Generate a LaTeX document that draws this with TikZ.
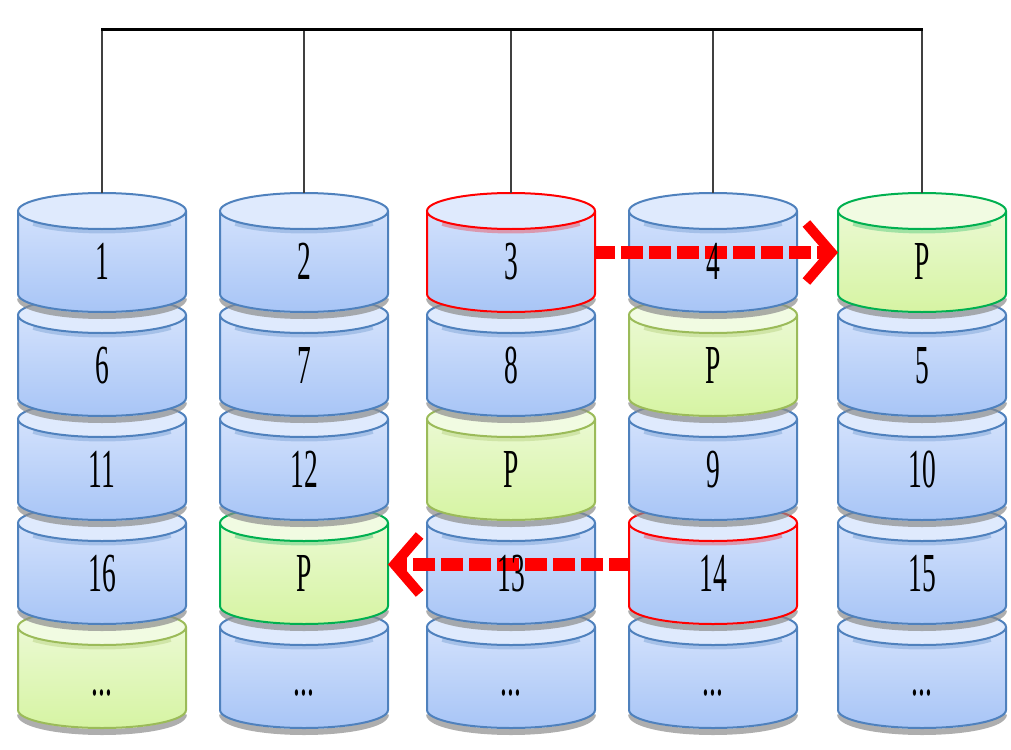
\documentclass[tikz,border=0pt]{standalone}
\usepackage{fontspec}
\setmainfont{Liberation Serif}
\usetikzlibrary{arrows.meta}

% colour sets: b = plain disk, r = source disk, g = parity disk, s = target parity disk
\definecolor{b-top}{HTML}{DAE6FD}
\definecolor{b-bot}{HTML}{A8C5F6}
\definecolor{b-cap}{HTML}{DFEAFD}
\definecolor{b-edge}{HTML}{4F81BD}
\colorlet{r-top}{b-top}
\colorlet{r-bot}{b-bot}
\colorlet{r-cap}{b-cap}
\definecolor{r-edge}{HTML}{FF0000}
\definecolor{g-top}{HTML}{EEFADA}
\definecolor{g-bot}{HTML}{D6F4A3}
\definecolor{g-cap}{HTML}{F1FBE2}
\definecolor{g-edge}{HTML}{9BBB59}
\colorlet{s-top}{g-top}
\colorlet{s-bot}{g-bot}
\colorlet{s-cap}{g-cap}
\definecolor{s-edge}{HTML}{00B050}
\definecolor{movered}{HTML}{FF0000}

\newcommand\moreblocks{...}

\tikzset{
  diskbox/.style={minimum width=168pt, minimum height=119pt, inner sep=0pt, outer sep=0pt, draw=none},
  lbl/.style={font=\fontsize{55}{55}\selectfont, xscale=0.5, anchor=base, inner sep=0pt},
  busline/.style={line width=3pt, black},
  drop/.style={line width=1.6pt, black!75},
  move/.style={movered, line width=13pt, dash pattern=on 22pt off 6pt, dash phase=2pt,
    -{Straight Barb[length=25pt, width=58pt, line width=10pt]}},
  shade/.style={line width=6pt, black!45, opacity=.7},
}

% \disk{name}{centre x}{cap centre y}{colour set}
\newcommand\disk[4]{%
  \pgfmathsetmacro\cbot{#3+83}%
  \draw[shade] (#2-82,-\cbot-4) arc[start angle=180, end angle=360, x radius=82, y radius=18];
  \path[top color=#4-top, bottom color=#4-bot]
    (#2-84,-#3) -- (#2-84,-\cbot)
    arc[start angle=180, end angle=360, x radius=84, y radius=18]
    -- (#2+84,-#3)
    arc[start angle=0, end angle=180, x radius=84, y radius=18] -- cycle;
  % soft band under the cap rim
  \draw[#4-edge, line width=4pt, opacity=.3]
    (#2-68.8,-#3-2.5-10.3) arc[start angle=215, end angle=325, x radius=84, y radius=18];
  \draw[#4-edge, line width=2pt]
    (#2-84,-#3) -- (#2-84,-\cbot)
    arc[start angle=180, end angle=360, x radius=84, y radius=18]
    -- (#2+84,-#3);
  \draw[#4-edge, fill=#4-cap, line width=2pt] (#2,-#3) ellipse[x radius=84, y radius=18];
  \node[diskbox] (#1) at (#2,-#3-41.5) {};
}

\begin{document}
\begin{tikzpicture}[x=1pt, y=1pt]
\useasboundingbox (0,0) rectangle (1011,-749);

% lowest row first, so that each disk sits on the one below it
\disk{d15}{102}{627}{g}
\disk{d25}{304}{627}{b}
\disk{d35}{511}{627}{b}
\disk{d45}{713}{627}{b}
\disk{d55}{922}{627}{b}

\disk{d14}{102}{523}{b}
\disk{d24}{304}{523}{s}
\disk{d34}{511}{523}{b}
\disk{d44}{713}{523}{r}
\disk{d54}{922}{523}{b}

\disk{d13}{102}{419}{b}
\disk{d23}{304}{419}{b}
\disk{d33}{511}{419}{g}
\disk{d43}{713}{419}{b}
\disk{d53}{922}{419}{b}

\disk{d12}{102}{315}{b}
\disk{d22}{304}{315}{b}
\disk{d32}{511}{315}{b}
\disk{d42}{713}{315}{g}
\disk{d52}{922}{315}{b}

\disk{d11}{102}{211}{b}
\disk{d21}{304}{211}{b}
\disk{d31}{511}{211}{r}
\disk{d41}{713}{211}{b}
\disk{d51}{922}{211}{s}

% shared bus with one drop to every disk column
\coordinate (bus) at (0,-29.5);
\foreach \c in {d11,d21,d31,d41,d51}
  \draw[drop] (\c.north) -- (\c.north |- bus);
\draw[busline] ([xshift=-1pt]d11.north |- bus) -- ([xshift=1pt]d51.north |- bus);

% parity moves
\draw[move] (d31.east) -- (d51.west);
\draw[move] (d44.west) -- (d24.east);

% block labels
\foreach \c/\t in {d11/1, d21/2, d31/3, d41/4, d51/P,
                   d12/6, d22/7, d32/8, d42/P, d52/5,
                   d13/11, d23/12, d33/P, d43/9, d53/10,
                   d14/16, d24/P, d34/13, d44/14, d54/15,
                   d15/\moreblocks, d25/\moreblocks, d35/\moreblocks,
                   d45/\moreblocks, d55/\moreblocks}
  \node[lbl] (t\c) at ([yshift=-27pt]\c.center) {\t};
\end{tikzpicture}
\end{document}
